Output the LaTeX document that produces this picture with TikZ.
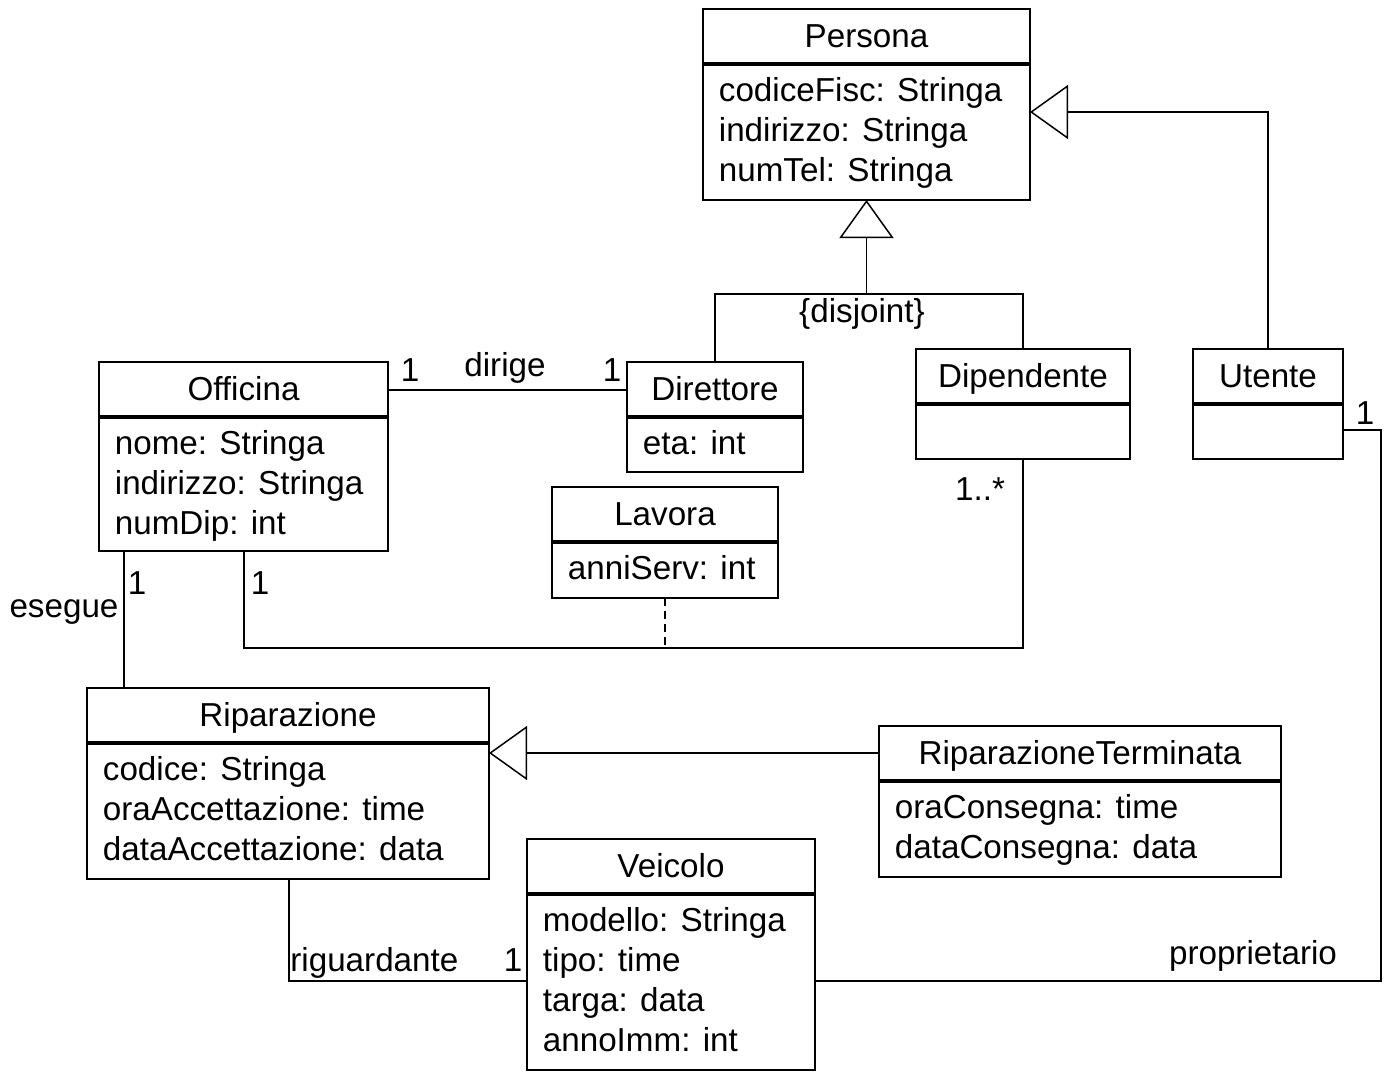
\documentclass[tikz,border=0pt]{standalone}
\usepackage{fontspec}
\setmainfont{Liberation Sans}
\usetikzlibrary{arrows.meta,calc}
\tikzset{
  cls/.style={draw, line width=0.75pt, inner sep=0pt, outer sep=0pt},
  sepline/.style={line width=1.6pt},
  lbl/.style={inner sep=0pt, font=\fontsize{16.6pt}{20pt}\selectfont},
  conn/.style={line width=0.75pt},
  gen/.style={conn, -{Triangle[fill=white, length=19pt, width=27pt]}},
  assocdash/.style={conn, dash pattern=on 4pt off 2.5pt}
}
\newcommand\umlclass[8]{%
  \node[cls, anchor=north west, minimum width={(#4-#2)*0.5pt}, minimum height={(#5-#3)*0.5pt}] (#1) at (#2,#3) {};
  \draw[sepline] (#2,#6) -- (#4,#6);
  \node[lbl, anchor=base] (#1-t) at ({(#2+#4)/2},#3+38) {#7};
  \foreach \a [count=\i] in {#8} {\node[lbl, anchor=base west] (#1-\i) at (#2+15.5, #6+37+40*\i-40) {\a};}
}
\begin{document}
\begin{tikzpicture}[x=0.5pt, y=-0.5pt]
\useasboundingbox (0,0) rectangle (1387,1072);
\umlclass{persona}{703}{9}{1030}{200}{64}{Persona}{codiceFisc: Stringa,indirizzo: Stringa,numTel: Stringa}
\umlclass{officina}{99}{362}{388}{551}{417}{Officina}{nome: Stringa,indirizzo: Stringa,numDip: int}
\umlclass{direttore}{627}{362}{803}{472}{417}{Direttore}{eta: int}
\umlclass{lavora}{552}{487}{778}{598}{542}{Lavora}{anniServ: int}
\umlclass{dipendente}{916}{349}{1130}{459}{404}{Dipendente}{}
\umlclass{utente}{1193}{349}{1343}{459}{404}{Utente}{}
\umlclass{riparazione}{87}{688}{489}{879}{743}{Riparazione}{codice: Stringa,oraAccettazione: time,dataAccettazione: data}
\umlclass{ripterm}{879}{726}{1281}{877}{781}{RiparazioneTerminata}{oraConsegna: time,dataConsegna: data}
\umlclass{veicolo}{527}{839}{815}{1070}{894}{Veicolo}{modello: Stringa,tipo: time,targa: data,annoImm: int}

% generalization Persona <- Direttore, Dipendente
\coordinate (gj) at ($(persona.south)+(0,94)$);
\draw[conn] (direttore.north) |- (gj) -| (dipendente.north);
\draw[gen] (gj) -- (persona.south);
\node[lbl, anchor=base] (disj) at (862,322) {\{disjoint\}};

% generalization Persona <- Utente
\draw[gen] (utente.north) |- ($(persona.north east)+(0,103)$);

% dirige
\draw[conn] ($(officina.north east)+(0,28)$) -- ($(direttore.north west)+(0,28)$);
\node[lbl, anchor=base] (m1) at (410,381) {1};
\node[lbl, anchor=base] (dirige) at (505,376) {dirige};
\node[lbl, anchor=base] (m2) at (612,381) {1};

% Officina - Dipendente (Lavora)
\coordinate (oa) at ($(officina.south west)+(145,0)$);
\draw[conn] (oa) -- ++(0,97) coordinate (ob) -| (dipendente.south);
\coordinate (lc) at (lavora.south |- ob);
\draw[assocdash] (lavora.south) -- (lc);
\node[lbl, anchor=base] (m3) at (260,594) {1};
\node[lbl, anchor=base] (m4) at (980,500) {1..*};

% esegue
\coordinate (ea) at ($(officina.south west)+(25,0)$);
\draw[conn] (ea) -- (ea |- riparazione.north);
\node[lbl, anchor=base] (m5) at (137,594) {1};
\node[lbl, anchor=base] (esegue) at (64,617) {esegue};

% generalization Riparazione <- RiparazioneTerminata
\draw[gen] ($(ripterm.north west)+(0,27)$) -- ($(riparazione.north east)+(0,65)$);

% riguardante
\coordinate (ra) at ($(riparazione.south west)+(202,0)$);
\draw[conn] (ra) |- ($(veicolo.north west)+(0,142)$);
\node[lbl, anchor=base west] (riguardante) at (290,971) {riguardante};
\node[lbl, anchor=base] (m6) at (513,971) {1};

% proprietario
\draw[conn] ($(utente.north east)+(0,81)$) -- ++(38,0) |- ($(veicolo.north east)+(0,142)$);
\node[lbl, anchor=base] (m7) at (1365,424) {1};
\node[lbl, anchor=base] (proprietario) at (1253,964) {proprietario};
\end{tikzpicture}
\end{document}
